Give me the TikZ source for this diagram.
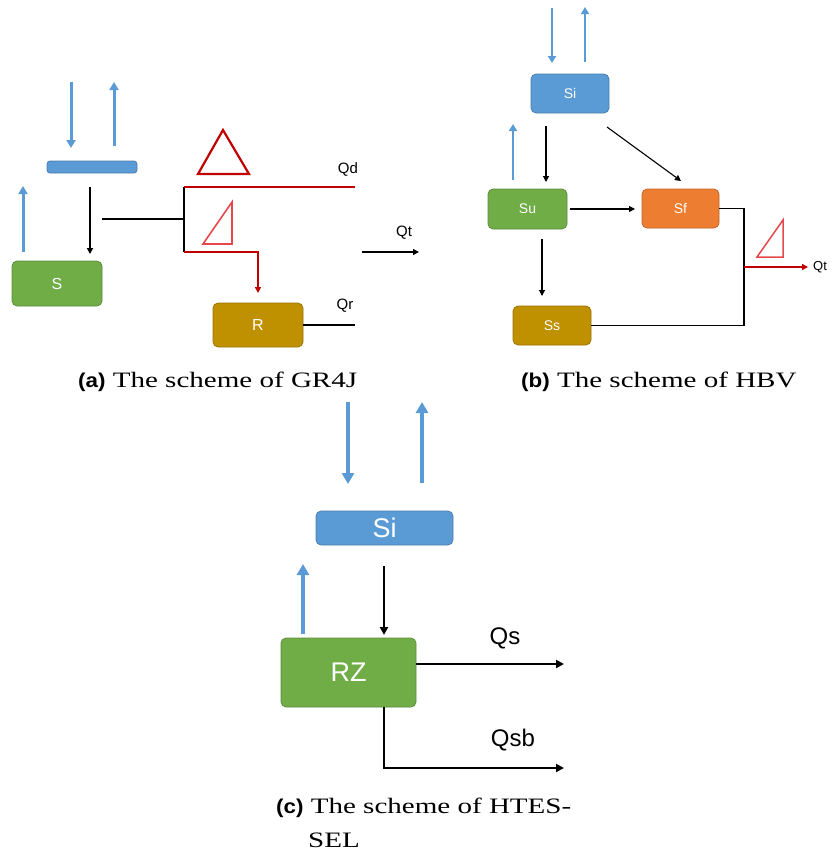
\documentclass[tikz,border=0pt]{standalone}
\usepackage{fontspec}
\setmainfont{Liberation Serif}
\setsansfont{Liberation Sans}
\newfontfamily\capfont{Liberation Serif}[FakeStretch=1.32]
\newfontfamily\capsans{Liberation Sans}[FakeStretch=1.12]
\usetikzlibrary{arrows.meta}
\definecolor{cblue}{HTML}{5B9BD5}
\definecolor{cgreen}{HTML}{70AD47}
\definecolor{corange}{HTML}{ED7D31}
\definecolor{cgold}{HTML}{BF9000}
\definecolor{cred}{HTML}{C00000}
\definecolor{lred}{HTML}{E5484B}
\begin{document}
\begin{tikzpicture}[x=1pt,y=-1pt,font=\sffamily,
  storebox/.style={rounded corners=5pt,draw=#1!80!black,line width=0.7pt,fill=#1,text=white,inner sep=0pt},
  bluearr/.style={draw=cblue,line width=3pt,-{Triangle[width=9pt,length=8pt]}},
  bluearrc/.style={draw=cblue,line width=4.5pt,-{Triangle[width=12pt,length=11pt]}},
  blk/.style={draw=black,line width=1.5pt},
  blkarr/.style={draw=black,line width=1.3pt,-{Triangle[width=6pt,length=6pt]}},
  blkarrc/.style={draw=black,line width=2.5pt,-{Triangle[width=8pt,length=8pt]}},
  redl/.style={draw=cred,line width=1.5pt},
  lbl/.style={inner sep=0pt,text=black},
  captext/.style={inner sep=0pt,anchor=west,font=\capfont\fontsize{22}{26}\selectfont}]
\useasboundingbox (0,0) rectangle (834,854);

% ---------------- (a) GR4J ----------------
\node[storebox=cblue,minimum width=90pt,minimum height=12pt,rounded corners=3pt] (bar) at (92,167) {};
\node[storebox=cgreen,minimum width=90pt,minimum height=45pt,font=\sffamily\fontsize{16}{16}\selectfont] (S) at (57,283.5) {S};
\node[storebox=cgold,minimum width=90pt,minimum height=44pt,font=\sffamily\fontsize{16}{16}\selectfont] (R) at (258,325) {R};

\coordinate (a1s) at (71,82);  \coordinate (a1e) at (71,148);
\coordinate (a2s) at (114,146); \coordinate (a2e) at (114,82);
\coordinate (a3s) at (23,252);  \coordinate (a3e) at (23,186);
\coordinate (a4s) at (90,187);  \coordinate (a4e) at (90,254);
\draw[bluearr] (a1s) -- (a1e);
\draw[bluearr] (a2s) -- (a2e);
\draw[bluearr] (a3s) -- (a3e);
\draw[blkarr] (a4s) -- (a4e);

\coordinate (jL) at (102,219);
\coordinate (jT) at (184,187);
\coordinate (jM) at (184,219);
\coordinate (jB) at (184,252);
\coordinate (qdE) at (355,187);
\coordinate (rT) at (258,293);
\coordinate (qrE) at (355,325);
\draw[blk] (jL) -- (jM);
\draw[blk] (jT) -- (jB);
\draw[redl] (jT) -- (qdE);
\draw[redl,-{Triangle[width=6pt,length=6pt]}] (jB) -- (258,252) -- (rT);
\draw[blk] (R.east |- qrE) -- (qrE);

% triangles
\draw[draw=cred,line width=2.2pt,line join=miter] (198,174) -- (223,130) -- (249,174) -- cycle;
\draw[draw=lred,line width=1.6pt,line join=miter] (203,244) -- (232,244) -- (232,202) -- cycle;

\node[lbl,font=\sffamily\fontsize{15}{15}\selectfont] (Qd) at (348,169) {Qd};
\node[lbl,font=\sffamily\fontsize{15}{15}\selectfont] (Qr) at (345,306) {Qr};
\coordinate (qtS) at (362,252); \coordinate (qtE) at (419,252);
\draw[blkarr] (qtS) -- (qtE);
\node[lbl,font=\sffamily\fontsize{15}{15}\selectfont] (Qta) at (404,233) {Qt};

% ---------------- (b) HBV ----------------
\node[storebox=cblue,minimum width=78pt,minimum height=39pt,font=\sffamily\fontsize{14}{14}\selectfont] (Si) at (570,93.5) {Si};
\node[storebox=cgreen,minimum width=79pt,minimum height=40pt,font=\sffamily\fontsize{14}{14}\selectfont] (Su) at (527.5,209) {Su};
\node[storebox=corange,minimum width=77pt,minimum height=39pt,font=\sffamily\fontsize{14}{14}\selectfont] (Sf) at (680.5,208.5) {Sf};
\node[storebox=cgold,minimum width=78pt,minimum height=39pt,font=\sffamily\fontsize{14}{14}\selectfont] (Ss) at (552,325.5) {Ss};

\coordinate (b1s) at (552,8);  \coordinate (b1e) at (552,63);
\coordinate (b2s) at (585,62); \coordinate (b2e) at (585,7);
\coordinate (b3s) at (513,180); \coordinate (b3e) at (513,124);
\draw[bluearr,line width=2.7pt,-{Triangle[width=8pt,length=7pt]}] (b1s) -- (b1e);
\draw[bluearr,line width=2.7pt,-{Triangle[width=8pt,length=7pt]}] (b2s) -- (b2e);
\draw[bluearr,line width=2.7pt,-{Triangle[width=8pt,length=7pt]}] (b3s) -- (b3e);

\coordinate (b4s) at (546,126); \coordinate (b4e) at (546,182);
\draw[blkarr,line width=1.1pt] (b4s) -- (b4e);
\coordinate (b5s) at (607,127); \coordinate (b5e) at (681,181);
\draw[blkarr,line width=1.1pt] (b5s) -- (b5e);
\coordinate (b6s) at (570,209); \coordinate (b6e) at (635,209);
\draw[blkarr,line width=1.1pt] (b6s) -- (b6e);
\coordinate (b7s) at (542,239); \coordinate (b7e) at (542,296);
\draw[blkarr,line width=1.1pt] (b7s) -- (b7e);

\coordinate (bR) at (744,267);
\draw[blk,line width=1.3pt] (Sf.east) -- (744,208.5) -- (744,325.5) -- (Ss.east);
\coordinate (qtb) at (808,267);
\draw[redl,line width=1.3pt,-{Triangle[width=6pt,length=6pt]}] (bR) -- (qtb);
\node[lbl,anchor=west,font=\sffamily\fontsize{13}{13}\selectfont] (Qtb) at (813,267) {Qt};
\draw[draw=lred,line width=1.5pt,line join=miter] (757,257) -- (783,257) -- (783,220) -- cycle;

% ---------------- (c) HTESSEL ----------------
\node[storebox=cblue,minimum width=137pt,minimum height=34pt,font=\sffamily\fontsize{27}{27}\selectfont] (Sic) at (384.5,528) {Si};
\node[storebox=cgreen,minimum width=135pt,minimum height=69pt,font=\sffamily\fontsize{27}{27}\selectfont] (RZ) at (348.5,672.5) {RZ};

\coordinate (c1s) at (348,402); \coordinate (c1e) at (348,484);
\coordinate (c2s) at (422,483); \coordinate (c2e) at (422,402);
\coordinate (c3s) at (303,634); \coordinate (c3e) at (303,564);
\draw[bluearrc] (c1s) -- (c1e);
\draw[bluearrc] (c2s) -- (c2e);
\draw[bluearrc] (c3s) -- (c3e);
\coordinate (c4s) at (384,566); \coordinate (c4e) at (384,635);
\draw[blkarrc,line width=2pt] (c4s) -- (c4e);
\coordinate (qsE) at (564,664);
\draw[blkarrc] (RZ.east |- qsE) -- (qsE);
\coordinate (qsbE) at (564,768);
\draw[blkarrc] (384,707) -- (384,768) -- (qsbE);
\node[lbl,font=\sffamily\fontsize{24}{24}\selectfont] (Qs) at (505,638) {Qs};
\node[lbl,font=\sffamily\fontsize{24}{24}\selectfont] (Qsb) at (513,740) {Qsb};

% ---------------- captions ----------------
\node[captext] (capa) at (78,382) {{\capsans\bfseries\fontsize{20}{22}\selectfont(a)} The scheme of GR4J};
\node[captext] (capb) at (521,382) {{\capsans\bfseries\fontsize{20}{22}\selectfont(b)} The scheme of HBV};
\node[captext] (capc) at (276,808) {{\capsans\bfseries\fontsize{20}{22}\selectfont(c)} The scheme of HTES-};
\node[captext] (capc2) at (308,840) {SEL};
\end{tikzpicture}
\end{document}
